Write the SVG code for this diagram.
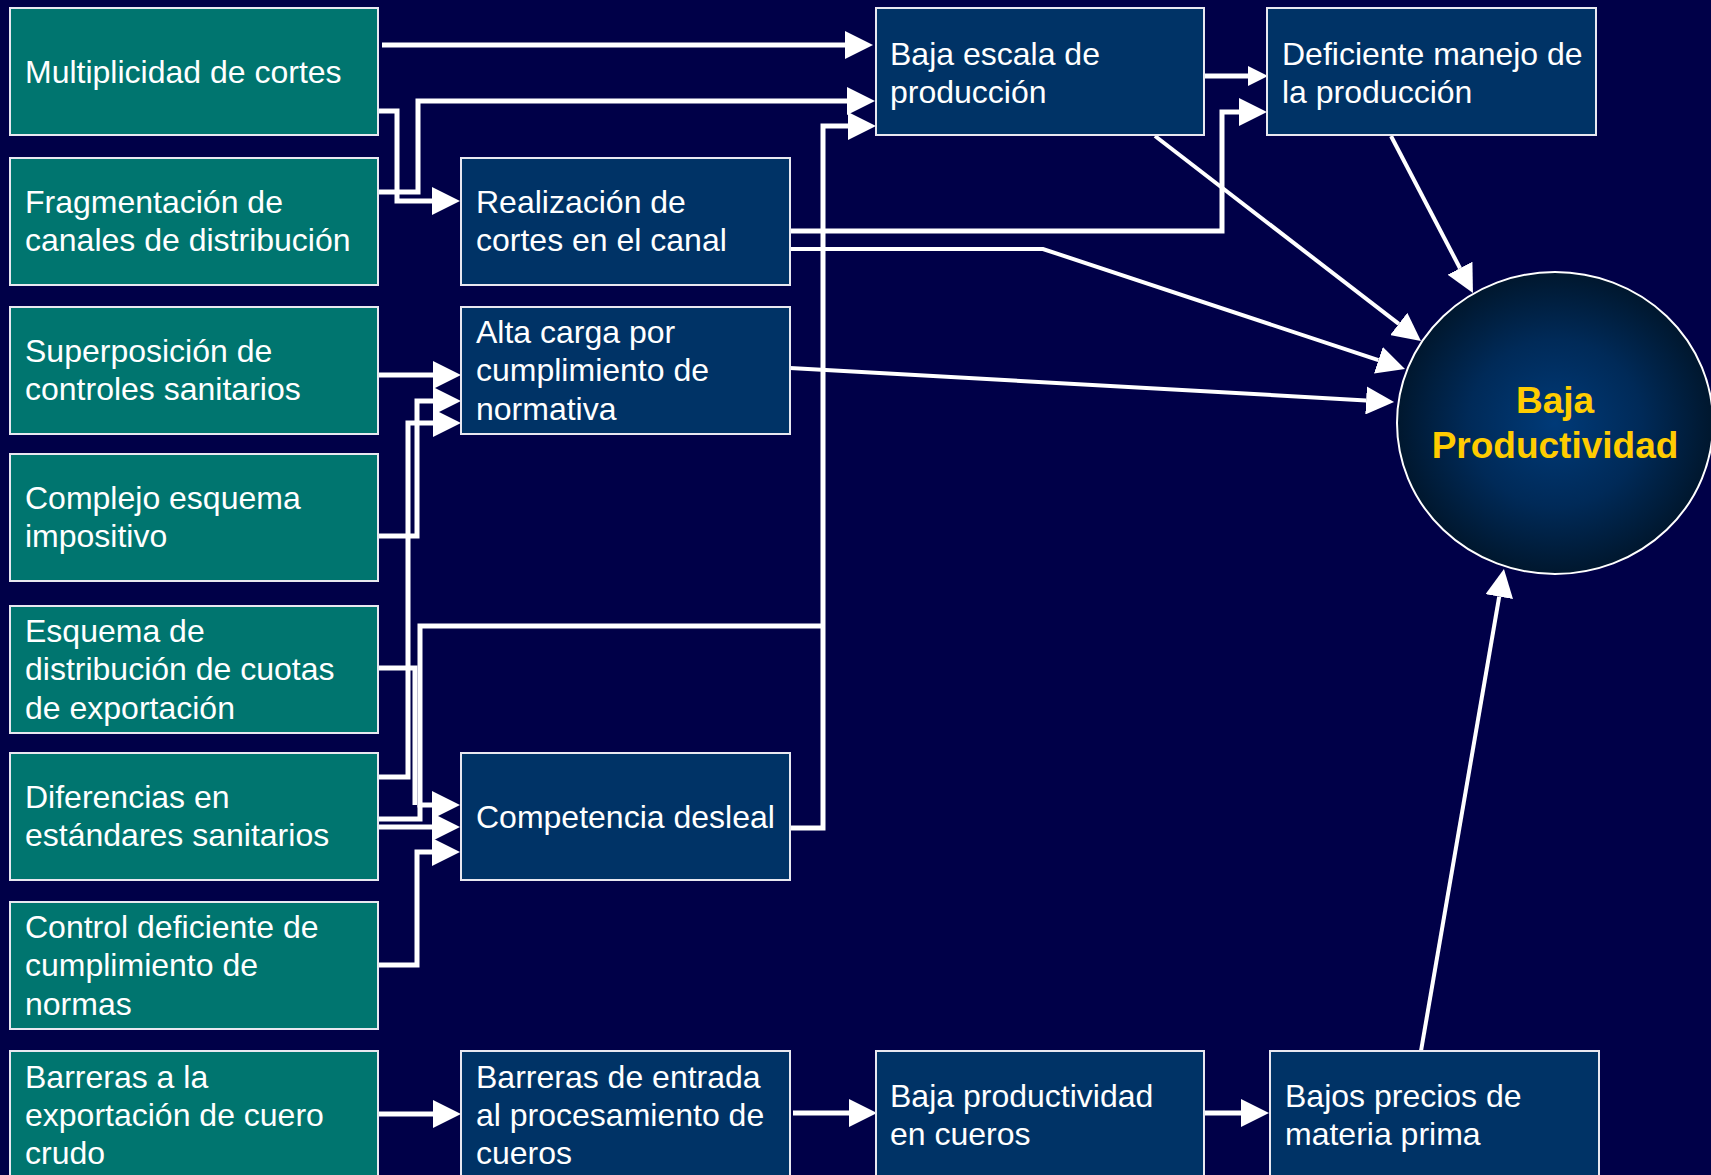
<svg xmlns="http://www.w3.org/2000/svg" width="1711" height="1175" viewBox="0 0 1711 1175">
<style>
.bg{fill:#000048}
.src{fill:#00756F;stroke:#E8E8F0;stroke-width:2}
.mid{fill:#003366;stroke:#E8E8F0;stroke-width:2}
.t{font-family:"Liberation Sans",Arial,sans-serif;font-size:32px;fill:#FFFFFF}
.title{font-family:"Liberation Sans",Arial,sans-serif;font-size:37px;font-weight:bold;fill:#FFCC00;text-anchor:middle}
.c{fill:none;stroke:#FFFFFF;stroke-width:5;marker-end:url(#ah)}
.cn{fill:none;stroke:#FFFFFF;stroke-width:5}
.d{fill:none;stroke:#FFFFFF;stroke-width:4;marker-end:url(#ah)}
</style>
<defs>
<marker id="ah" markerUnits="userSpaceOnUse" markerWidth="28" markerHeight="28" refX="0" refY="14" orient="auto" viewBox="0 0 28 28">
<path d="M0,0 L28,14 L0,28 z" fill="#FFFFFF"/>
</marker>
<marker id="ahs" markerUnits="userSpaceOnUse" markerWidth="20" markerHeight="20" refX="0" refY="10" orient="auto" viewBox="0 0 20 20">
<path d="M0,0 L20,10 L0,20 z" fill="#FFFFFF"/>
</marker>
<radialGradient id="eg" cx="50%" cy="50%" r="50%">
<stop offset="0" stop-color="#003A78"/>
<stop offset="0.55" stop-color="#002A58"/>
<stop offset="1" stop-color="#00172E"/>
</radialGradient>
</defs>
<rect class="bg" x="0" y="0" width="1711" height="1175"/>

<g id="connectors">
<path class="c" d="M382,45 H845"/>
<path class="c" d="M378,111 H397 V201 H432"/>
<path class="c" d="M378,192 H418 V101 H847"/>
<path class="c" d="M790,828 H823 V126 H848"/>
<path class="c" d="M823,626 H420 V805 H432"/>
<path class="cn" d="M378,668 H415 V805"/>
<path class="cn" d="M378,819 H420 V805"/>
<path class="c" d="M378,827 H432"/>
<path class="c" d="M378,965 H417 V852 H432"/>
<path class="c" d="M378,777 H408 V423 H433"/>
<path class="c" d="M378,536 H417 V401 H433"/>
<path class="c" d="M378,375 H433"/>
<path class="cn" d="M1204,76 H1248" style="marker-end:url(#ahs)"/>
<path class="c" d="M789,231 H1222 V112 H1239"/>
<path class="d" d="M788,249 H1043 L1378.4,360.2"/>
<path class="d" d="M1155,136 L1398.8,323.9"/>
<path class="d" d="M1391,136 L1460,268.2"/>
<path class="d" d="M790,368 L1366.1,400.4"/>
<path class="d" d="M1421,1051 L1499.2,596.6"/>
<path class="c" d="M379,1114 H433"/>
<path class="c" d="M793,1113 H849"/>
<path class="c" d="M1204,1113 H1241"/>
</g>

<g id="n-multiplicidad"><rect class="src" x="10" y="8" width="368" height="127"/><text class="t" x="25" y="83">Multiplicidad de cortes</text></g>
<g id="n-fragmentacion"><rect class="src" x="10" y="158" width="368" height="127"/><text class="t" x="25" y="213">Fragmentación de</text><text class="t" x="25" y="251">canales de distribución</text></g>
<g id="n-superposicion"><rect class="src" x="10" y="307" width="368" height="127"/><text class="t" x="25" y="362">Superposición de</text><text class="t" x="25" y="400">controles sanitarios</text></g>
<g id="n-complejo"><rect class="src" x="10" y="454" width="368" height="127"/><text class="t" x="25" y="509">Complejo esquema</text><text class="t" x="25" y="547">impositivo</text></g>
<g id="n-esquema"><rect class="src" x="10" y="606" width="368" height="127"/><text class="t" x="25" y="642">Esquema de</text><text class="t" x="25" y="680">distribución de cuotas</text><text class="t" x="25" y="719">de exportación</text></g>
<g id="n-diferencias"><rect class="src" x="10" y="753" width="368" height="127"/><text class="t" x="25" y="808">Diferencias en</text><text class="t" x="25" y="846">estándares sanitarios</text></g>
<g id="n-control"><rect class="src" x="10" y="902" width="368" height="127"/><text class="t" x="25" y="938">Control deficiente de</text><text class="t" x="25" y="976">cumplimiento de</text><text class="t" x="25" y="1015">normas</text></g>
<g id="n-barreras-export"><rect class="src" x="10" y="1051" width="368" height="130"/><text class="t" x="25" y="1088">Barreras a la</text><text class="t" x="25" y="1126">exportación de cuero</text><text class="t" x="25" y="1164">crudo</text></g>

<g id="n-realizacion"><rect class="mid" x="461" y="158" width="329" height="127"/><text class="t" x="476" y="213">Realización de</text><text class="t" x="476" y="251">cortes en el canal</text></g>
<g id="n-alta-carga"><rect class="mid" x="461" y="307" width="329" height="127"/><text class="t" x="476" y="343">Alta carga por</text><text class="t" x="476" y="381">cumplimiento de</text><text class="t" x="476" y="420">normativa</text></g>
<g id="n-competencia"><rect class="mid" x="461" y="753" width="329" height="127"/><text class="t" x="476" y="828">Competencia desleal</text></g>
<g id="n-barreras-entrada"><rect class="mid" x="461" y="1051" width="329" height="130"/><text class="t" x="476" y="1088">Barreras de entrada</text><text class="t" x="476" y="1126">al procesamiento de</text><text class="t" x="476" y="1164">cueros</text></g>

<g id="n-baja-escala"><rect class="mid" x="876" y="8" width="328" height="127"/><text class="t" x="890" y="65">Baja escala de</text><text class="t" x="890" y="103">producción</text></g>
<g id="n-deficiente"><rect class="mid" x="1267" y="8" width="329" height="127"/><text class="t" x="1282" y="65">Deficiente manejo de</text><text class="t" x="1282" y="103">la producción</text></g>
<g id="n-baja-prod-cueros"><rect class="mid" x="876" y="1051" width="328" height="130"/><text class="t" x="890" y="1107">Baja productividad</text><text class="t" x="890" y="1145">en cueros</text></g>
<g id="n-bajos-precios"><rect class="mid" x="1270" y="1051" width="329" height="130"/><text class="t" x="1285" y="1107">Bajos precios de</text><text class="t" x="1285" y="1145">materia prima</text></g>

<g id="n-baja-productividad"><ellipse cx="1555" cy="423" rx="158" ry="151" fill="url(#eg)" stroke="#FFFFFF" stroke-width="2"/><text class="title" x="1555" y="413">Baja</text><text class="title" x="1555" y="458">Productividad</text></g>
</svg>
